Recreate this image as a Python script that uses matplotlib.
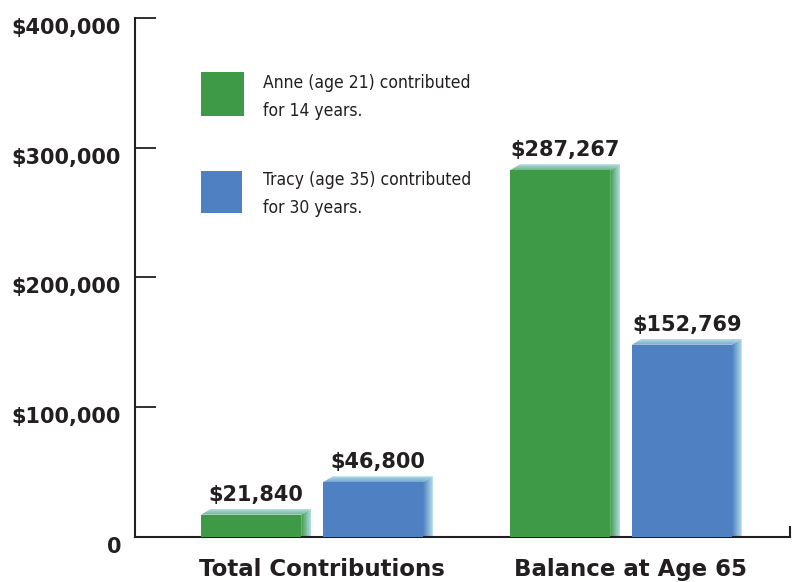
import numpy as np
import matplotlib.pyplot as plt
from matplotlib.colors import to_rgb
from matplotlib.patches import Polygon, Rectangle
from matplotlib.transforms import ScaledTranslation

# data
categories = ["Total Contributions", "Balance at Age 65"]
anne = [21840, 287267]
tracy = [46800, 152769]
anne_label = "Anne (age 21) contributed\nfor 14 years."
tracy_label = "Tracy (age 35) contributed\nfor 30 years."
yticks = [0, 100000, 200000, 300000, 400000]
ytick_labels = ["0", "$100,000", "$200,000", "$300,000", "$400,000"]

GREEN = "#3f9a47"
BLUE = "#4f80c2"
LIGHT = "#b3dde9"
INK = "#231f20"

plt.rcParams['font.family'] = ['DejaVu Sans']

fig = plt.figure(figsize=(7.97, 5.82), dpi=100)
ax = fig.add_axes([0.1694, 0.0773, 0.8218, 0.8918])

width = 0.324
depth_x = 0.032
depth_y = 4600
offsets = [-0.375, 0.019]


def shade(verts, c0, c1, horizontal):
    # gradient fill clipped to a polygon
    poly = Polygon(verts, closed=True, facecolor='none', edgecolor='none')
    ax.add_patch(poly)
    xs = [p[0] for p in verts]
    ys = [p[1] for p in verts]
    t = np.linspace(0, 1, 64)
    a, b = np.array(to_rgb(c0)), np.array(to_rgb(c1))
    grad = a + (b - a) * t[:, None]
    img = grad[None, :, :] if horizontal else grad[:, None, :]
    im = ax.imshow(img, extent=(min(xs), max(xs), min(ys), max(ys)),
                   origin='lower', aspect='auto', interpolation='bilinear', zorder=2)
    im.set_clip_path(poly)


def bars3d(xs, vals, color):
    fronts = [v - depth_y for v in vals]
    ax.bar(xs, fronts, width=width, align='edge', color=color, zorder=3)
    for x, v, f in zip(xs, vals, fronts):
        r = x + width
        # side face
        shade([(r, 0), (r + depth_x, 0), (r + depth_x, v), (r, f)],
              color, LIGHT, True)
        # top face
        mid = tuple((np.array(to_rgb(color)) * 0.6 + np.array(to_rgb(LIGHT)) * 0.4))
        shade([(x, f), (r, f), (r + depth_x, v), (x + depth_x, v)],
              mid, LIGHT, False)
        ax.annotate("${:,}".format(v), (x + (width + depth_x) / 2, v),
                    xytext=(0, 3), textcoords='offset points',
                    ha='center', va='bottom', fontsize=15, fontweight='bold',
                    color=INK, zorder=4)


idx = np.arange(len(categories))
bars3d(idx + offsets[0], anne, GREEN)
bars3d(idx + offsets[1], tracy, BLUE)

ax.set_xlim(-0.589, 1.531)
ax.set_ylim(0, 400000)

for s in ['top', 'right']:
    ax.spines[s].set_visible(False)
for s in ['left', 'bottom']:
    ax.spines[s].set_linewidth(1.5)
    ax.spines[s].set_color(INK)

ax.set_yticks(yticks)
ax.set_yticklabels(ytick_labels, fontsize=15, fontweight='bold', color=INK)
ax.tick_params(axis='y', direction='in', length=15, width=1.3, color=INK, pad=10)
shift = ScaledTranslation(0, -0.08, fig.dpi_scale_trans)
for lab in ax.get_yticklabels():
    lab.set_transform(lab.get_transform() + shift)

ax.set_xticks(idx + 0.016)
ax.set_xticklabels(categories, fontsize=16.5, fontweight='bold', color=INK)
ax.tick_params(axis='x', length=0, pad=15)
ax.set_xticks([1.531], minor=True)
ax.tick_params(axis='x', which='minor', direction='in', length=8, width=1.5, color=INK)

# legend
fig.patches.append(Rectangle((0.2522, 0.8007), 0.054, 0.0756, facecolor=GREEN,
                             transform=fig.transFigure, figure=fig))
fig.patches.append(Rectangle((0.2522, 0.634), 0.0515, 0.0722, facecolor=BLUE,
                             transform=fig.transFigure, figure=fig))
fig.text(0.33, 0.8333, anne_label, family=['DejaVu Sans'], stretch='condensed',
         fontsize=12.5, va='center', ha='left', color=INK, linespacing=1.7)
fig.text(0.33, 0.6667, tracy_label, family=['DejaVu Sans'], stretch='condensed',
         fontsize=12.5, va='center', ha='left', color=INK, linespacing=1.7)

fig.savefig("out.png", dpi=100)
